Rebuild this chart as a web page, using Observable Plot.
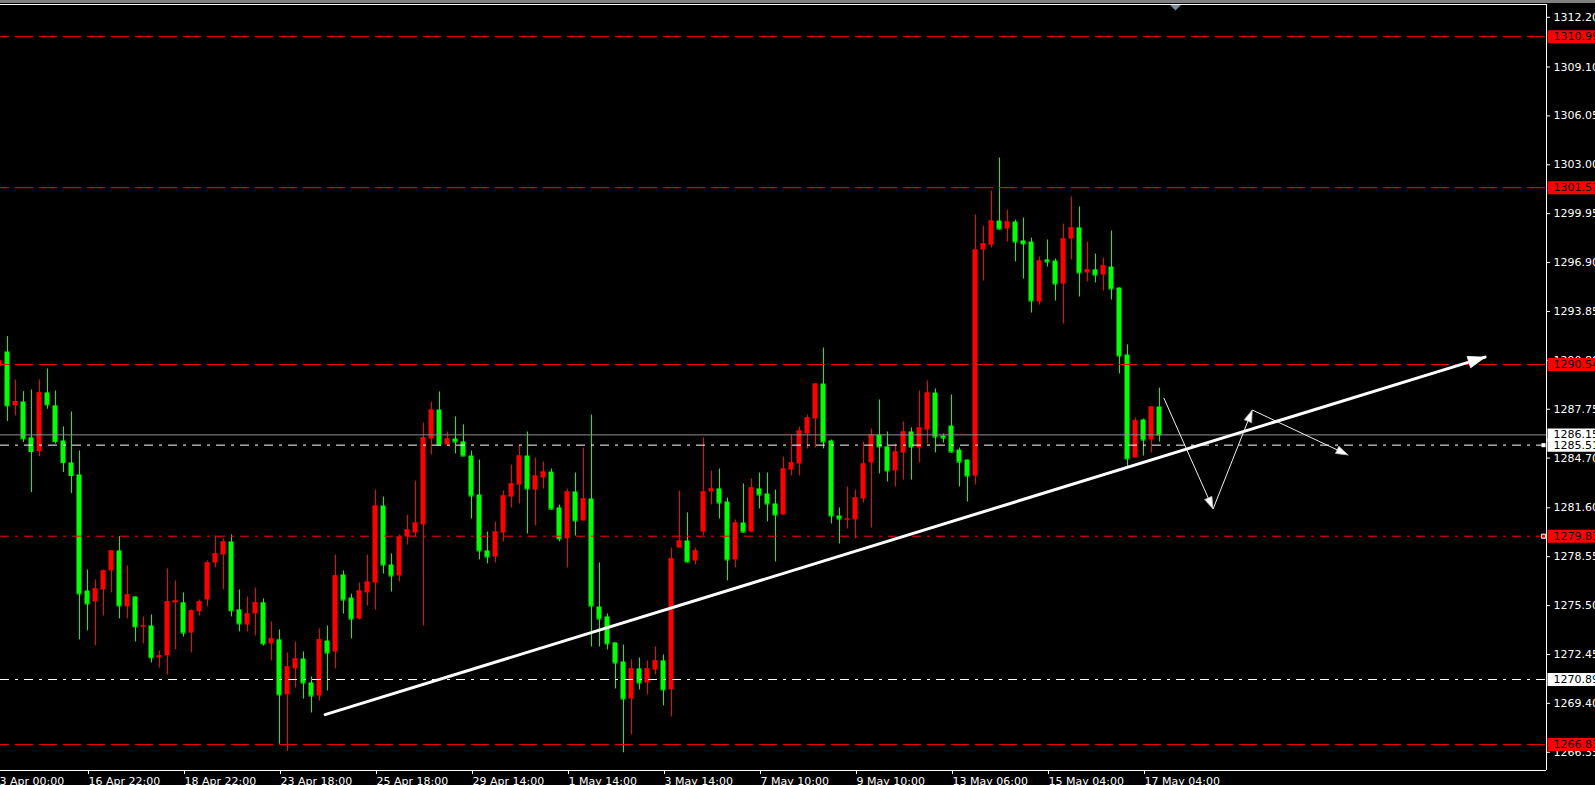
<!DOCTYPE html>
<html><head><meta charset="utf-8">
<script src="https://cdn.jsdelivr.net/npm/d3@7"></script>
<script src="https://cdn.jsdelivr.net/npm/@observablehq/plot@0.6"></script>
<style>
html,body{margin:0;padding:0;background:#000;overflow:hidden;}
#topbar{height:3px;background:#808080;}
#chart svg{display:block;}
</style></head><body><div id="topbar"></div><div id="chart"></div>
<script>
// XAUUSD H4 candles, index -1 .. 144
const firstIndex = -1;
const opens = [1290.41,1291.32,1287.96,1288.20,1285.96,1285.11,1288.77,1287.96,1285.77,1284.40,1283.65,1276.41,1275.73,1276.48,1277.66,1278.91,1275.42,1276.04,1274.17,1274.23,1272.24,1272.36,1275.67,1275.67,1273.79,1275.11,1275.85,1278.16,1278.66,1279.47,1275.23,1274.29,1274.98,1275.67,1273.11,1273.36,1269.93,1271.55,1272.17,1270.67,1269.86,1273.29,1272.61,1277.41,1275.97,1274.66,1276.29,1276.91,1281.71,1278.03,1277.35,1279.78,1280.03,1280.53,1285.89,1287.70,1285.52,1285.89,1285.71,1284.83,1282.40,1278.91,1278.53,1280.03,1282.27,1283.02,1284.83,1282.71,1283.46,1283.83,1281.59,1279.66,1282.59,1280.78,1282.15,1275.41,1274.79,1273.17,1271.98,1269.67,1271.55,1270.67,1271.48,1272.05,1270.24,1279.09,1279.53,1278.28,1280.09,1282.59,1282.78,1281.96,1278.35,1280.65,1280.09,1282.78,1282.46,1281.84,1281.15,1283.96,1284.33,1286.21,1287.14,1289.32,1285.77,1281.09,1280.84,1280.84,1282.15,1284.40,1286.14,1285.40,1283.90,1285.02,1286.33,1285.33,1286.45,1288.76,1286.08,1286.70,1285.20,1284.58,1283.58,1297.68,1297.99,1299.49,1298.99,1299.43,1298.25,1298.18,1294.44,1297.06,1296.99,1295.56,1298.37,1299.06,1296.25,1296.44,1296.12,1296.62,1295.31,1291.13,1284.71,1287.08,1285.83,1287.89];
const highs = [1291.00,1292.28,1289.58,1288.85,1288.95,1289.58,1290.26,1288.89,1286.65,1287.58,1285.15,1277.72,1277.10,1277.72,1278.91,1279.80,1277.97,1276.04,1274.79,1274.92,1272.67,1277.79,1277.04,1276.29,1275.23,1275.85,1278.29,1279.85,1279.66,1279.91,1276.48,1276.04,1276.60,1275.92,1274.48,1273.98,1272.55,1273.23,1272.61,1271.05,1274.04,1274.23,1278.66,1277.66,1276.22,1276.91,1278.66,1282.71,1282.27,1278.72,1279.91,1281.15,1283.27,1286.89,1288.20,1288.83,1286.33,1287.27,1286.77,1285.14,1284.58,1280.09,1280.71,1282.65,1284.27,1285.52,1286.33,1284.71,1284.46,1284.02,1281.77,1282.77,1283.77,1285.33,1287.39,1278.16,1274.98,1273.17,1273.04,1272.11,1272.23,1272.05,1272.92,1272.42,1279.09,1282.65,1281.28,1279.09,1285.96,1283.90,1284.02,1282.21,1280.84,1283.09,1283.40,1283.77,1283.77,1282.71,1284.77,1286.14,1286.64,1287.39,1289.32,1291.57,1285.83,1281.59,1282.90,1282.71,1285.71,1286.52,1288.33,1286.33,1285.58,1286.95,1286.58,1288.88,1289.51,1289.01,1286.20,1288.64,1285.33,1284.58,1299.87,1299.18,1301.36,1303.42,1300.18,1299.55,1299.68,1298.43,1297.24,1298.31,1297.12,1299.30,1300.99,1300.37,1298.18,1297.43,1297.18,1298.87,1295.31,1291.76,1287.21,1287.14,1287.89,1289.07];
const lows = [1290.20,1286.98,1287.33,1285.67,1282.55,1284.79,1287.75,1285.58,1283.80,1282.49,1273.36,1273.92,1272.98,1274.85,1276.29,1274.67,1274.67,1273.23,1273.11,1271.92,1271.61,1271.17,1272.73,1273.54,1272.55,1274.85,1275.42,1277.85,1276.48,1274.79,1273.86,1273.86,1273.61,1272.98,1272.05,1266.85,1266.39,1270.36,1269.67,1268.80,1269.55,1270.17,1271.55,1274.97,1273.42,1274.60,1275.47,1275.22,1277.47,1276.35,1276.97,1279.28,1279.78,1274.23,1284.90,1285.52,1285.52,1284.96,1284.83,1280.90,1278.35,1278.10,1278.16,1279.47,1281.59,1281.84,1279.97,1280.47,1282.77,1281.46,1279.47,1277.85,1279.84,1280.78,1272.92,1272.92,1272.73,1270.30,1266.32,1267.43,1270.24,1269.92,1271.17,1269.24,1268.55,1279.09,1278.16,1278.03,1279.84,1281.78,1280.90,1277.04,1277.85,1280.03,1280.03,1281.53,1280.72,1278.22,1281.15,1283.59,1283.59,1285.27,1285.33,1285.27,1280.59,1279.34,1280.28,1279.66,1281.90,1280.34,1283.71,1283.21,1282.90,1283.33,1283.33,1284.39,1285.58,1285.02,1285.64,1285.02,1282.90,1281.96,1283.02,1295.75,1297.81,1298.93,1298.18,1296.94,1295.87,1293.75,1294.25,1296.62,1294.50,1293.07,1297.06,1294.75,1295.69,1295.63,1295.13,1294.56,1289.95,1284.15,1284.71,1284.83,1285.02,1285.70];
const closes = [1290.76,1287.96,1288.23,1285.90,1285.11,1288.77,1288.02,1285.73,1284.42,1283.61,1276.23,1275.60,1276.54,1277.66,1278.91,1275.48,1276.16,1274.17,1274.23,1272.24,1272.36,1275.73,1275.79,1273.79,1275.17,1275.73,1278.16,1278.72,1279.47,1275.17,1274.36,1274.98,1275.67,1273.11,1273.42,1269.93,1271.67,1272.17,1270.67,1269.86,1273.36,1272.54,1277.35,1275.85,1274.66,1276.41,1276.97,1281.71,1278.03,1277.35,1279.78,1280.22,1280.65,1285.96,1287.70,1285.52,1285.89,1285.71,1284.83,1282.34,1278.91,1278.53,1280.09,1282.34,1283.09,1284.83,1282.77,1283.58,1283.83,1281.52,1279.66,1282.59,1280.78,1282.15,1275.47,1274.66,1273.11,1271.92,1269.67,1271.55,1270.67,1271.55,1272.05,1270.24,1278.41,1279.53,1278.22,1278.91,1282.59,1282.78,1281.90,1278.35,1280.65,1280.09,1282.84,1282.40,1281.84,1281.15,1284.02,1284.40,1286.39,1287.20,1289.32,1285.71,1281.09,1280.90,1280.90,1282.21,1284.33,1286.14,1285.40,1283.90,1285.08,1286.33,1285.39,1286.58,1288.76,1286.02,1285.95,1285.08,1284.45,1283.58,1297.68,1298.06,1299.49,1298.99,1299.43,1298.18,1298.06,1294.50,1296.99,1296.94,1295.56,1298.37,1299.06,1296.25,1296.44,1296.12,1296.69,1295.25,1291.07,1284.65,1287.02,1285.83,1287.89,1286.15];

const tickIndex = [-2,10,22,34,46,58,70,82,94,106,118,130,142];
const tickLabels = ["13 Apr 00:00","16 Apr 22:00","18 Apr 22:00","23 Apr 18:00","25 Apr 18:00","29 Apr 14:00","1 May 14:00","3 May 14:00","7 May 10:00","9 May 10:00","13 May 06:00","15 May 04:00","17 May 04:00"];
const priceTicks = [1312.20,1309.10,1306.05,1303.00,1299.95,1296.90,1293.85,1290.80,1287.75,1284.70,1281.60,1278.55,1275.50,1272.45,1269.40,1266.35];

const redDashLevels = [1310.99,1301.57,1290.54,1266.83];
const redDashDotLevels = [1279.83];
const whiteDashDotLevels = [1285.51,1270.89];
const bidPrice = 1286.15;
const redLabelLevels = [1310.99,1301.57,1290.54,1279.83,1266.83];
const whiteLabelLevels = [1286.15,1285.51,1270.89];

const trendK = [39.7,184.7];
const trendV = [1268.70,1291.00];
const zigK = [144.56,150.7,155.6,167.56];
const zigV = [1288.43,1281.53,1287.70,1284.90];
const shiftIndex = 146;

const RED = "#ff0000", GREEN = "#00ff00";
const xDomain = [-0.875, 192.375];
const yDomain = [1265.213, 1312.998];

const candles = opens.map((o,i)=>({k:i+firstIndex,o,h:highs[i],l:lows[i],c:closes[i],up:closes[i]>opens[i]}));
const trend = trendK.map((k,i)=>({k,v:trendV[i]}));
const zig = zigK.map((k,i)=>({k,v:zigV[i]}));
const hw = 0.3125;

function decorations(index, scales, values, dimensions) {
  const sx = scales.x || d3.scaleLinear(xDomain,[dimensions.marginLeft, dimensions.width-dimensions.marginRight]);
  const sy = scales.y || d3.scaleLinear(yDomain,[dimensions.height-dimensions.marginBottom, dimensions.marginTop]);
  const g = d3.create("svg:g");
  const head = (a, b, len, wid, fill, stroke) => {
    const x0=sx(a.k)+0.5, y0=sy(a.v)+0.5, x1=sx(b.k)+0.5, y1=sy(b.v)+0.5;
    const ang=Math.atan2(y1-y0,x1-x0);
    const bx=x1-len*Math.cos(ang), by=y1-len*Math.sin(ang);
    const px=-Math.sin(ang)*wid/2, py=Math.cos(ang)*wid/2;
    g.append("path").attr("d",`M${x1},${y1}L${bx+px},${by+py}L${bx-px},${by-py}Z`)
      .attr("fill",fill).attr("stroke",stroke).attr("stroke-width",0.8);
  };
  head(trend[0], trend[1], 17, 12, "#ffffff", "#ffffff");
  for (let i=1;i<zig.length;i++) head(zig[i-1], zig[i], 12, 8, "#ffffff", "#b0b0b0");
  const tx = sx(shiftIndex)+0.5, ty = dimensions.marginTop;
  g.append("path").attr("d",`M${tx-5.5},${ty+1}L${tx+5.5},${ty+1}L${tx},${ty+6.5}Z`).attr("fill","#7b8a9c");
  return g.node();
}

const plot = Plot.plot({
  width: 1595, height: 782,
  marginLeft: 0, marginRight: 49, marginTop: 1, marginBottom: 15,
  style: {background:"#000", color:"#fff", fontFamily:"DejaVu Sans", fontSize:"11px"},
  x: {type:"linear", domain: xDomain, axis: null},
  y: {type:"linear", domain: yDomain, axis: null},
  marks: [
    // wicks
    Plot.ruleX(candles, {filter:d=>d.up, x:"k", y1:"l", y2:"h", stroke:RED, strokeWidth:1}),
    Plot.ruleX(candles, {filter:d=>!d.up, x:"k", y1:"l", y2:"h", stroke:GREEN, strokeWidth:1}),
    // bodies
    Plot.rect(candles, {filter:d=>d.up, x1:d=>d.k-hw, x2:d=>d.k+hw, y1:"o", y2:"c", fill:RED}),
    Plot.rect(candles, {filter:d=>!d.up, x1:d=>d.k-hw, x2:d=>d.k+hw, y1:"o", y2:"c", fill:GREEN}),
    Plot.ruleY(candles, {filter:d=>d.up, y:"c", x1:d=>d.k-hw, x2:d=>d.k+hw, stroke:RED}),
    Plot.ruleY(candles, {filter:d=>!d.up, y:"c", x1:d=>d.k-hw, x2:d=>d.k+hw, stroke:GREEN}),
    // horizontal levels
    Plot.ruleY(redDashLevels, {stroke:RED, strokeWidth:1, strokeDasharray:"18,6", strokeDashoffset:9}),
    Plot.ruleY(redDashDotLevels, {stroke:RED, strokeWidth:1, strokeDasharray:"9,6,3,6"}),
    Plot.ruleY(whiteDashDotLevels, {stroke:"#ffffff", strokeWidth:1, strokeDasharray:"9,6,3,6"}),
    Plot.ruleY([bidPrice], {stroke:"#8e9096", strokeWidth:1}),
    // trend line & projected path
    Plot.line(trend, {x:"k", y:"v", stroke:"#ffffff", strokeWidth:3}),
    Plot.line(zig, {x:"k", y:"v", stroke:"#eeeeee", strokeWidth:1}),
    decorations,
    // frame
    Plot.ruleX([xDomain[1]], {stroke:"#ffffff"}),
    Plot.ruleY(yDomain, {stroke:"#ffffff"}),
    // axes
    Plot.axisY(priceTicks, {anchor:"right", tickSize:3, tickPadding:4, tickFormat:d=>d.toFixed(2), stroke:"#ffffff", fill:"#ffffff", label:null}),
    Plot.axisX(tickIndex, {anchor:"bottom", tickSize:4, tickPadding:2.5, tickFormat:d=>tickLabels[tickIndex.indexOf(d)], textAnchor:"start", dx:1, stroke:"#ffffff", fill:"#ffffff", label:null}),
    // level price boxes
    Plot.ruleY(redLabelLevels, {x1:()=>xDomain[1]+0.1875, x2:()=>xDomain[1]+8, stroke:RED, strokeWidth:13}),
    Plot.ruleY(whiteLabelLevels, {x1:()=>xDomain[1]+0.1875, x2:()=>xDomain[1]+8, stroke:"#ffffff", strokeWidth:13}),
    Plot.text(redLabelLevels, {y:d=>d, frameAnchor:"right", dx:7, textAnchor:"start", text:d=>d.toFixed(2), fill:"#000000"}),
    Plot.text(whiteLabelLevels, {y:d=>d, frameAnchor:"right", dx:7, textAnchor:"start", text:d=>d.toFixed(2), fill:"#000000"}),
    // small markers on the border
    Plot.dot([whiteDashDotLevels[0]], {y:d=>d, frameAnchor:"right", dx:-3, symbol:"square", r:2.3, fill:"#ffffff"}),
    Plot.dot(redDashDotLevels, {y:d=>d, frameAnchor:"right", dx:-3, symbol:"square", r:2.3, fill:RED, stroke:"#ffffff", strokeWidth:1})
  ]
});
document.getElementById("chart").appendChild(plot);
</script></body></html>
